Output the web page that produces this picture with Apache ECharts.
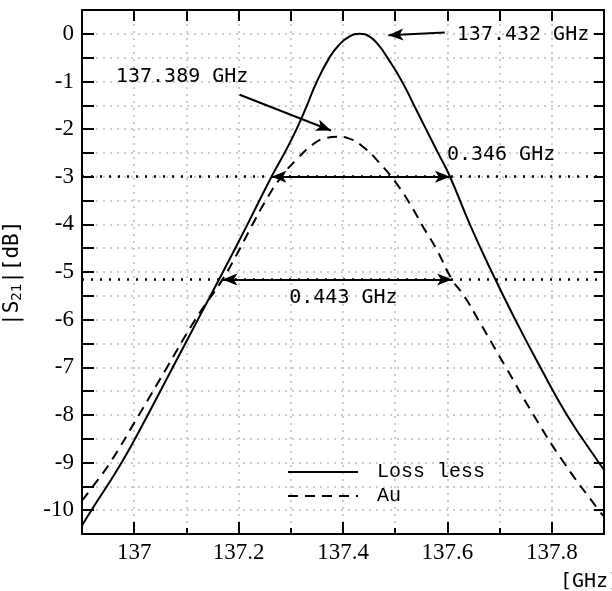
<!DOCTYPE html>
<html>
<head>
<meta charset="utf-8">
<script src="https://cdn.jsdelivr.net/npm/echarts@6/dist/echarts.min.js"></script>
<style>
  html, body { margin: 0; padding: 0; background: #fff; }
  #content { width: 612px; height: 591px; }
</style>
</head>
<body>
<div id="content"></div>
<script>
!(function(window) {
    var element = document.getElementById('content');
    var myChart = echarts.init(element);

    // |S21| [dB] against frequency [GHz]
    var lossLess = [
        [136.9, -10.32], [136.918, -10], [136.976, -9], [137.026, -8], [137.074, -7],
        [137.122, -6], [137.17, -5], [137.217, -4], [137.263, -3], [137.288, -2.5],
        [137.311, -2], [137.331, -1.5], [137.35, -1], [137.374, -0.5], [137.391, -0.25],
        [137.412, -0.06], [137.432, 0], [137.451, -0.06], [137.469, -0.25], [137.485, -0.5],
        [137.513, -1], [137.536, -1.5], [137.559, -2], [137.582, -2.5], [137.605, -3],
        [137.643, -4], [137.685, -5], [137.73, -6], [137.778, -7], [137.829, -8],
        [137.89, -9], [137.9, -9.15]
    ];
    var au = [
        [136.9, -9.8], [136.921, -9.5], [136.954, -9], [137.009, -8], [137.063, -7],
        [137.117, -6], [137.169, -5.16], [137.198, -4.6], [137.222, -4.1], [137.252, -3.5],
        [137.282, -3], [137.311, -2.64], [137.345, -2.3], [137.367, -2.19], [137.389, -2.16],
        [137.412, -2.2], [137.437, -2.36], [137.469, -2.7], [137.505, -3.18], [137.532, -3.64],
        [137.556, -4.1], [137.578, -4.5], [137.609, -5.16], [137.632, -5.5], [137.659, -6],
        [137.712, -7], [137.765, -8], [137.823, -9], [137.89, -10], [137.9, -10.13]
    ];

    var xLabels = [137, 137.2, 137.4, 137.6, 137.8];
    var level3dB = -3;
    var levelAu = -5.16;
    var span346 = [137.263, 137.605];
    var span443 = [137.169, 137.609];
    // [tail, head]
    var peakArrows = [
        [[137.595, 0.03], [137.487, -0.03]],
        [[137.202, -1.28], [137.377, -2.03]]
    ];
    // [text, x, y] (left edge, vertical middle)
    var notes = [
        ['137.432 GHz', 137.618, -0.02],
        ['137.389 GHz', 136.965, -0.9],
        ['0.346 GHz', 137.599, -2.53],
        ['0.443 GHz', 137.297, -5.54]
    ];

    var monoFont = 'DejaVu Sans Mono';
    var black = '#000';
    var axisLine = { onZero: false, lineStyle: { color: black, width: 2 } };
    var tickStyle = { color: black, width: 2 };
    var gridDots = { show: true, lineStyle: { color: '#bdbdbd', width: 1.5, type: [2, 5] } };

    var arrowLines = [];
    peakArrows.forEach(function(a) {
        arrowLines.push([
            { coord: a[0], symbol: 'none' },
            { coord: a[1], symbol: 'arrow' }
        ]);
    });
    [[span346, level3dB], [span443, levelAu]].forEach(function(s) {
        arrowLines.push([
            { coord: [s[0][0], s[1]], symbol: 'arrow' },
            { coord: [s[0][1], s[1]], symbol: 'arrow' }
        ]);
    });
    var levelLines = [level3dB, levelAu].map(function(v) {
        return [
            { coord: [136.9, v], symbol: 'none', lineStyle: { color: black, width: 2.5, type: [2, 7] } },
            { coord: [137.9, v], symbol: 'none' }
        ];
    });

    var option = {
        backgroundColor: '#fff',
        animation: false,
        grid: { left: 82, top: 10, right: 8, bottom: 57 },
        legend: {
            orient: 'vertical',
            left: 282,
            top: 457,
            itemWidth: 70,
            itemHeight: 14,
            itemGap: 4,
            data: ['Loss less', 'Au'],
            itemStyle: { opacity: 0 },
            textStyle: { fontFamily: 'Liberation Mono', fontSize: 20, color: black, padding: [0, 0, 0, 14] }
        },
        xAxis: [{
            type: 'value',
            min: 136.9,
            max: 137.9,
            interval: 0.1,
            position: 'bottom',
            axisLine: axisLine,
            axisTick: { inside: true, length: 6, lineStyle: tickStyle },
            axisLabel: {
                margin: 7,
                fontFamily: 'Liberation Serif',
                fontSize: 23,
                color: black,
                formatter: function(v) {
                    for (var i = 0; i < xLabels.length; i++) {
                        if (Math.abs(v - xLabels[i]) < 1e-6) return String(xLabels[i]);
                    }
                    return '';
                }
            },
            splitLine: gridDots
        }, {
            type: 'value',
            min: 136.9,
            max: 137.9,
            position: 'bottom',
            axisLine: { show: false, onZero: false },
            axisTick: { inside: true, length: 12, customValues: xLabels, lineStyle: tickStyle },
            axisLabel: { show: false },
            splitLine: { show: false }
        }, {
            type: 'value',
            min: 136.9,
            max: 137.9,
            interval: 0.1,
            position: 'top',
            axisLine: axisLine,
            axisTick: { inside: true, length: 11, lineStyle: tickStyle },
            axisLabel: { show: false },
            splitLine: { show: false }
        }],
        yAxis: [{
            type: 'value',
            min: -10.5,
            max: 0.5,
            interval: 0.5,
            position: 'left',
            axisLine: axisLine,
            axisTick: { inside: true, length: 12, lineStyle: tickStyle },
            axisLabel: {
                margin: 8,
                fontFamily: 'Liberation Serif',
                fontSize: 23,
                color: black,
                formatter: function(v) {
                    return Math.abs(v - Math.round(v)) < 1e-6 ? String(Math.round(v)) : '';
                }
            },
            splitLine: gridDots
        }, {
            type: 'value',
            min: -10.5,
            max: 0.5,
            interval: 0.5,
            position: 'right',
            axisLine: axisLine,
            axisTick: { inside: true, length: 10, lineStyle: tickStyle },
            axisLabel: { show: false },
            splitLine: { show: false }
        }],
        graphic: [{
            type: 'text',
            x: 2,
            y: 326,
            rotation: Math.PI / 2,
            style: {
                text: '{n||S}{s|21}{n||[dB]}',
                fill: black,
                rich: {
                    n: { fontFamily: monoFont, fontSize: 21, fill: black },
                    s: { fontFamily: monoFont, fontSize: 14, fill: black, padding: [8, 0, 0, 0] }
                }
            }
        }, {
            type: 'text',
            left: 560,
            top: 572,
            style: { text: '[GHz]', fontFamily: monoFont, fontSize: 20, fill: black }
        }],
        series: [{
            name: 'Loss less',
            type: 'line',
            xAxisIndex: 0,
            yAxisIndex: 0,
            smooth: 0.5,
            symbol: 'none',
            clip: true,
            lineStyle: { color: black, width: 2 },
            itemStyle: { color: black },
            data: lossLess,
            markLine: {
                silent: true,
                symbol: ['none', 'none'],
                symbolSize: [9, 15],
                label: { show: false },
                lineStyle: { color: black, width: 2, type: 'solid' },
                data: levelLines.concat(arrowLines)
            },
            markPoint: {
                silent: true,
                symbol: 'circle',
                symbolSize: 0,
                data: notes.map(function(n) {
                    return {
                        coord: [n[1], n[2]],
                        label: {
                            show: true,
                            position: [0, 0],
                            align: 'left',
                            verticalAlign: 'middle',
                            formatter: n[0],
                            fontFamily: monoFont,
                            fontSize: 20,
                            color: black
                        }
                    };
                })
            }
        }, {
            name: 'Au',
            type: 'line',
            xAxisIndex: 0,
            yAxisIndex: 0,
            smooth: 0.5,
            symbol: 'none',
            clip: true,
            lineStyle: { color: black, width: 2, type: [10, 7] },
            itemStyle: { color: black },
            data: au
        }]
    };
    myChart.setOption(option);
})(window);
</script>
</body>
</html>
